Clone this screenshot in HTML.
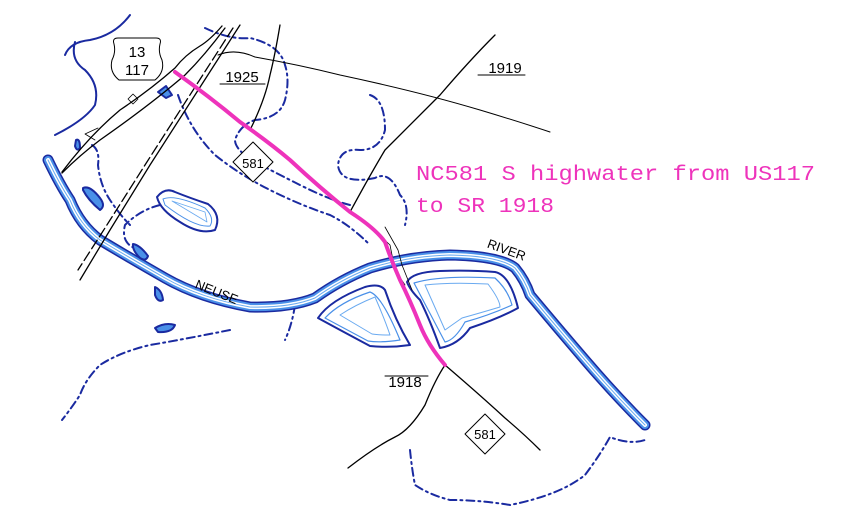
<!DOCTYPE html>
<html><head><style>
html,body{margin:0;padding:0;background:#fff;width:858px;height:520px;overflow:hidden}
</style></head><body>
<svg width="858" height="520" viewBox="0 0 858 520" xmlns="http://www.w3.org/2000/svg">
<g fill="none" stroke-linejoin="round" stroke-linecap="round">
<g stroke="#1a2aa0" stroke-width="2" stroke-dasharray="8,4,2,4">
<path d="M205,28 Q230,40 250,38 Q280,45 285,65 Q290,80 285,100 Q280,118 255,120 Q240,125 235,140 Q235,150 255,162 Q280,175 300,185 Q330,200 350,205"/>
<path d="M178,95 Q190,130 215,155 Q240,175 270,190 Q300,205 330,215 Q350,225 370,245"/>
<path d="M370,95 Q385,100 385,130 Q380,150 360,150 Q340,148 338,165 Q340,185 375,178 Q390,170 400,195 Q410,205 405,225"/>
<path d="M92,145 Q100,150 98,165 Q100,185 110,200 Q120,215 130,225"/>
<path d="M160,205 Q140,210 125,225 Q120,245 140,250"/>
<path d="M295,305 Q292,325 285,340"/>
<path d="M230,330 Q180,340 150,345 Q120,352 100,365 Q85,380 80,395 Q70,410 62,420"/>
<path d="M410,450 Q412,470 415,485 Q430,495 450,500 Q480,500 510,505 Q560,495 585,475 Q600,455 610,437 Q630,445 645,440"/>
</g>
<path d="M75,42 Q70,60 85,70 Q100,85 95,105 Q85,120 55,135" stroke="#1a2aa0" stroke-width="2"/>
<path d="M130,15 Q115,35 90,40 Q70,42 65,55" stroke="#1a2aa0" stroke-width="2"/>
<g>
<path d="M48,160 Q60,185 70,200 Q80,225 100,240 Q130,258 165,278 Q200,298 250,307 Q290,308 315,298 Q340,280 370,268 Q410,256 450,255 Q500,256 515,268 Q525,280 530,295 Q555,325 585,360 Q615,395 645,425" stroke="#1a2aa0" stroke-width="11"/>
<path d="M48,160 Q60,185 70,200 Q80,225 100,240 Q130,258 165,278 Q200,298 250,307 Q290,308 315,298 Q340,280 370,268 Q410,256 450,255 Q500,256 515,268 Q525,280 530,295 Q555,325 585,360 Q615,395 645,425" stroke="#4a90e8" stroke-width="8"/>
<path d="M48,160 Q60,185 70,200 Q80,225 100,240 Q130,258 165,278 Q200,298 250,307 Q290,308 315,298 Q340,280 370,268 Q410,256 450,255 Q500,256 515,268 Q525,280 530,295 Q555,325 585,360 Q615,395 645,425" stroke="#fff" stroke-width="4"/>
<path d="M48,160 Q60,185 70,200 Q80,225 100,240 Q130,258 165,278 Q200,298 250,307 Q290,308 315,298 Q340,280 370,268 Q410,256 450,255 Q500,256 515,268 Q525,280 530,295 Q555,325 585,360 Q615,395 645,425" stroke="#6aaaf0" stroke-width="1"/>
</g>
<path d="M318,318 Q330,300 365,287 Q380,283 385,290 Q395,320 410,345 Q390,348 370,346 Q340,330 318,318Z" stroke="#1a2aa0" stroke-width="2" fill="#fff"/>
<path d="M325,318 Q340,302 370,292 Q382,296 400,340 Q380,343 368,341Z" stroke="#4a90e8" stroke-width="1.2"/>
<path d="M340,315 Q355,305 375,297 Q385,320 390,335 Q378,335 372,334Z" stroke="#6aaaf0" stroke-width="1"/>
<path d="M407,282 Q412,272 440,271 Q470,270 495,272 Q510,275 518,308 Q500,318 470,328 Q458,345 440,348 Q430,320 420,300 Q410,290 407,282Z" stroke="#1a2aa0" stroke-width="2" fill="#fff"/>
<path d="M414,283 Q440,275 495,278 Q508,290 512,305 Q490,315 465,322 Q455,340 445,342Z" stroke="#4a90e8" stroke-width="1.2"/>
<path d="M425,285 Q450,282 488,284 Q500,300 500,307 Q480,313 462,318 Q452,325 445,330Z" stroke="#6aaaf0" stroke-width="1"/>
<path d="M157,197 Q165,187 175,192 Q190,198 208,204 Q222,215 215,230 Q200,235 180,222 Q160,210 157,197Z" stroke="#1a2aa0" stroke-width="2"/>
<path d="M163,199 Q175,194 205,208 Q215,218 210,226 Q195,228 165,205Z" stroke="#4a90e8" stroke-width="1"/>
<path d="M172,201 L205,212 L207,222 Z" stroke="#6aaaf0" stroke-width="0.8"/>
<path d="M83,188 Q90,185 100,198 Q106,206 100,210 Q88,200 83,190Z" stroke="#1a2aa0" stroke-width="2" fill="#4a90e8"/>
<path d="M133,244 Q140,245 148,256 Q146,262 140,258 Q132,250 133,244Z" stroke="#1a2aa0" stroke-width="2" fill="#4a90e8"/>
<path d="M155,287 Q162,290 163,300 Q158,303 155,295Z" stroke="#1a2aa0" stroke-width="2" fill="#4a90e8"/>
<path d="M155,328 Q165,322 175,325 Q172,333 158,332Z" stroke="#1a2aa0" stroke-width="2" fill="#4a90e8"/>
<path d="M76,140 Q80,138 80,148 Q77,152 75,146Z" stroke="#1a2aa0" stroke-width="2" fill="#4a90e8"/>
<path d="M158,92 L166,86 L172,95 L166,98Z" stroke="#1a2aa0" stroke-width="2" fill="#4a90e8"/>
<g stroke="#000" stroke-width="1.3">
<path d="M222,26 Q210,40 200,46 Q185,55 175,68 Q150,90 120,110 Q90,135 62,172"/>
<path d="M225,28 Q205,55 185,75 Q150,105 100,140 Q80,155 62,173"/>
<path d="M240,25 L195,95 L150,165 L110,230 L80,280"/>
<path d="M233,28 L188,98 L145,165 L105,228 L78,270" stroke-dasharray="10,4"/>
<path d="M280,25 Q275,55 270,75 Q265,100 250,130"/>
<path d="M218,55 Q235,48 255,57 Q300,65 340,75 Q420,92 480,110 Q520,122 550,132" stroke-width="1"/>
<path d="M495,35 Q470,60 440,95 Q405,130 385,150 Q370,175 350,212"/>
<path d="M445,365 Q435,380 425,405 Q410,430 395,437 Q375,447 348,468"/>
<path d="M445,365 Q480,395 505,418 Q525,435 540,450"/>
<path d="M372,228 L390,245 L395,270 L405,285" stroke-width="0.8"/>
<path d="M385,227 L398,250 L402,265 L412,290" stroke-width="0.8"/>
</g>
<path d="M175,72 Q210,97 240,122 Q270,143 290,160 Q320,188 350,212 Q375,228 385,242 Q392,262 400,280 Q410,300 420,325 Q428,345 445,365" stroke="#ee33bb" stroke-width="4"/>
<path d="M114,44 Q112,38 118,38 L156,38 Q162,38 160,44 Q158,52 162,60 Q165,72 155,80 L119,80 Q109,72 112,60 Q116,52 114,44Z" stroke="#000" stroke-width="1" fill="#fff"/>
<path d="M253,142 L273,162 L253,182 L233,162Z" stroke="#000" stroke-width="1" fill="#fff"/>
<path d="M485,414 L505,434 L485,454 L465,434Z" stroke="#000" stroke-width="1" fill="#fff"/>
<path d="M128,99 L133,94 L138,99 L133,104Z" stroke="#000" stroke-width="0.8"/>
<path d="M85,134 L98,128 M85,134 L95,140" stroke="#000" stroke-width="0.8"/>
<path d="M385,376 L428,376 M220,84 L265,84 M478,75 L525,75" stroke="#000" stroke-width="1"/>
</g>
<g font-size="15" fill="#000" text-anchor="middle" style="font-family:'Liberation Sans',sans-serif">
<text x="137" y="57">13</text>
<text x="137" y="75">117</text>
<text x="253" y="168" font-size="13">581</text>
<text x="485" y="439" font-size="13">581</text>
<text x="242" y="82">1925</text>
<text x="505" y="73">1919</text>
<text x="405" y="387">1918</text>
<text x="215" y="296" font-size="13" transform="rotate(22 215 296)">NEUSE</text>
<text x="505" y="254" font-size="13" transform="rotate(20 505 254)">RIVER</text>
</g>
<g font-size="21" fill="#ee33bb" style="font-family:'Liberation Mono',monospace">
<text x="416" y="180" textLength="399" lengthAdjust="spacingAndGlyphs">NC581 S highwater from US117</text>
<text x="416" y="212" textLength="138" lengthAdjust="spacingAndGlyphs">to SR 1918</text>
</g>
</svg>
</body></html>
